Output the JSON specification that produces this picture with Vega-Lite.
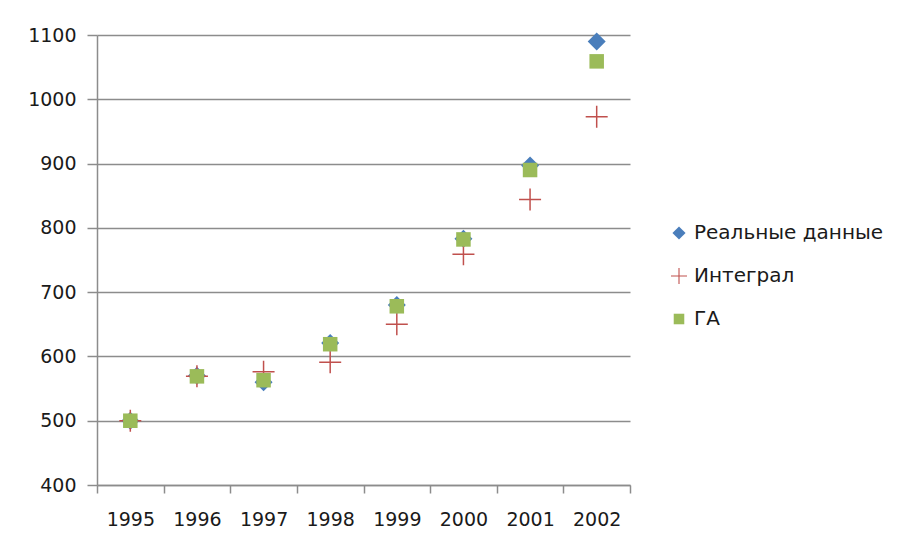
{
  "$schema": "https://vega.github.io/schema/vega-lite/v6.json",
  "width": 533,
  "height": 450,
  "autosize": {"type": "none"},
  "padding": {"left": 97, "top": 35, "right": 270, "bottom": 63},
  "background": "white",
  "data": {
    "values": [
      {"year": "1995", "series": "Реальные данные", "value": 500},
      {"year": "1996", "series": "Реальные данные", "value": 570},
      {"year": "1997", "series": "Реальные данные", "value": 560},
      {"year": "1998", "series": "Реальные данные", "value": 621},
      {"year": "1999", "series": "Реальные данные", "value": 680},
      {"year": "2000", "series": "Реальные данные", "value": 783},
      {"year": "2001", "series": "Реальные данные", "value": 897},
      {"year": "2002", "series": "Реальные данные", "value": 1090},
      {"year": "1995", "series": "Интеграл", "value": 500},
      {"year": "1996", "series": "Интеграл", "value": 569},
      {"year": "1997", "series": "Интеграл", "value": 576},
      {"year": "1998", "series": "Интеграл", "value": 591},
      {"year": "1999", "series": "Интеграл", "value": 650},
      {"year": "2000", "series": "Интеграл", "value": 759},
      {"year": "2001", "series": "Интеграл", "value": 844},
      {"year": "2002", "series": "Интеграл", "value": 973},
      {"year": "1995", "series": "ГА", "value": 500},
      {"year": "1996", "series": "ГА", "value": 569},
      {"year": "1997", "series": "ГА", "value": 563},
      {"year": "1998", "series": "ГА", "value": 619},
      {"year": "1999", "series": "ГА", "value": 678},
      {"year": "2000", "series": "ГА", "value": 782},
      {"year": "2001", "series": "ГА", "value": 890},
      {"year": "2002", "series": "ГА", "value": 1059}
    ]
  },
  "mark": {"type": "point", "filled": true, "opacity": 1, "size": 484},
  "encoding": {
    "x": {
      "field": "year",
      "type": "ordinal",
      "scale": {"type": "band", "paddingInner": 0, "paddingOuter": 0},
      "axis": {
        "title": null,
        "labelAngle": 0,
        "tickBand": "extent",
        "tickSize": 8,
        "labelPadding": 17,
        "grid": false
      }
    },
    "y": {
      "field": "value",
      "type": "quantitative",
      "scale": {"domain": [400, 1100], "nice": false, "zero": false},
      "axis": {
        "title": null,
        "format": "d",
        "values": [400, 500, 600, 700, 800, 900, 1000, 1100],
        "tickSize": 10,
        "labelPadding": 11,
        "grid": true
      }
    },
    "color": {
      "field": "series",
      "type": "nominal",
      "scale": {
        "domain": ["Реальные данные", "Интеграл", "ГА"],
        "range": ["#4a7ebb", "#c0504d", "#9bbb59"]
      },
      "legend": {
        "title": null,
        "orient": "none",
        "legendX": 572,
        "legendY": 188,
        "rowPadding": 23,
        "labelOffset": 5,
        "labelLimit": 400,
        "labelFontSize": 20,
        "labelFont": "DejaVu Sans",
        "labelColor": "#1a1a1a",
        "symbolSize": 256
      }
    },
    "shape": {
      "field": "series",
      "type": "nominal",
      "scale": {
        "domain": ["Реальные данные", "Интеграл", "ГА"],
        "range": [
          "M-0.82,0L0,-0.82L0.82,0L0,0.82Z",
          "M-1,-0.068H-0.068V-1H0.068V-0.068H1V0.068H0.068V1H-0.068V0.068H-1Z",
          "M-0.66,-0.66H0.66V0.66H-0.66Z"
        ]
      }
    }
  },
  "config": {
    "view": {"stroke": null},
    "axis": {
      "labelFont": "DejaVu Sans",
      "labelFontSize": 19,
      "labelColor": "#1a1a1a",
      "domainColor": "#8c8c8c",
      "domainWidth": 1.5,
      "tickColor": "#8c8c8c",
      "tickWidth": 1.5,
      "gridColor": "#8c8c8c",
      "gridWidth": 1.5,
      "gridOpacity": 1
    }
  }
}
